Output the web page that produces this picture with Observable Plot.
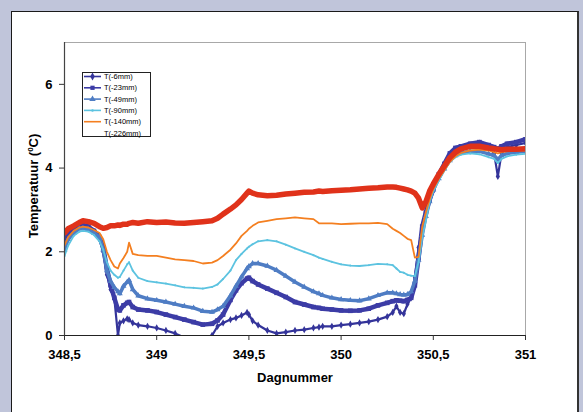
<!DOCTYPE html>
<html><head><meta charset="utf-8">
<script src="https://cdn.jsdelivr.net/npm/d3@7"></script>
<script src="https://cdn.jsdelivr.net/npm/@observablehq/plot@0.6"></script>
<style>
html,body{margin:0;padding:0;}
body{width:583px;height:412px;background:#c0c5da;position:relative;overflow:hidden;font-family:"Liberation Sans",Arial,sans-serif;}
#panel{position:absolute;left:11px;top:11px;width:565px;height:420px;background:#fff;border:1px solid #1a1a1a;border-right:2px solid #333;}
#chart{position:absolute;left:0;top:0;}
#ytitle{position:absolute;left:33px;top:186px;transform:translate(-50%,-50%) rotate(-90deg);font-weight:bold;font-size:13px;white-space:nowrap;color:#000;}
#ytitle sup{font-size:8px;vertical-align:5px;line-height:0;}
#xtitle{position:absolute;left:295px;top:377px;transform:translate(-50%,-50%);font-weight:bold;font-size:13px;color:#000;}
#legend{position:absolute;left:82px;top:72px;}
</style></head><body>
<div id="panel"></div>
<div id="chart"></div>
<div id="ytitle">Temperatuur (<sup>0</sup>C)</div>
<div id="xtitle">Dagnummer</div>
<div id="legend"></div>
<script>
const days = [348.50,348.52,348.55,348.58,348.60,348.63,348.66,348.69,348.71,348.73,348.75,348.77,348.79,348.80,348.82,348.84,348.85,348.87,348.90,348.95,349.00,349.05,349.10,349.15,349.20,349.25,349.30,349.33,349.36,349.40,349.43,349.46,349.49,349.50,349.52,349.55,349.60,349.65,349.70,349.75,349.80,349.85,349.88,349.90,349.95,350.00,350.05,350.10,350.15,350.20,350.25,350.28,350.30,350.32,350.34,350.36,350.38,350.40,350.42,350.44,350.46,350.48,350.50,350.53,350.56,350.59,350.62,350.65,350.70,350.75,350.80,350.83,350.85,350.87,350.90,350.95,351.00];

const t6 = [2.10,2.40,2.52,2.60,2.62,2.58,2.48,2.30,2.00,1.45,1.10,0.90,0.00,0.30,0.35,0.40,0.38,0.30,0.25,0.22,0.18,0.12,0.05,-0.05,-0.10,-0.08,0.00,0.22,0.30,0.38,0.42,0.48,0.55,0.50,0.35,0.25,0.12,0.05,0.08,0.12,0.14,0.18,0.20,0.22,0.22,0.25,0.27,0.30,0.33,0.38,0.45,0.55,0.70,0.55,0.52,0.75,0.90,1.40,2.10,2.55,2.90,3.20,3.45,3.80,4.05,4.30,4.42,4.48,4.52,4.55,4.50,4.35,3.80,4.35,4.50,4.55,4.60];
const t23 = [2.30,2.45,2.55,2.62,2.64,2.60,2.50,2.35,2.10,1.60,1.20,0.90,0.62,0.60,0.72,0.78,0.80,0.68,0.62,0.60,0.56,0.50,0.44,0.38,0.32,0.26,0.28,0.36,0.50,0.85,1.08,1.25,1.36,1.38,1.30,1.22,1.12,1.02,0.92,0.80,0.74,0.68,0.66,0.64,0.62,0.60,0.59,0.60,0.64,0.72,0.78,0.82,0.84,0.83,0.82,0.85,0.90,1.20,1.85,2.60,2.95,3.25,3.50,3.85,4.10,4.35,4.48,4.52,4.58,4.62,4.55,4.50,4.45,4.52,4.58,4.62,4.69];
const t49 = [2.05,2.30,2.45,2.55,2.56,2.52,2.45,2.35,2.05,1.55,1.30,1.15,1.05,1.00,1.18,1.28,1.32,1.10,0.95,0.88,0.84,0.80,0.75,0.70,0.66,0.58,0.56,0.62,0.70,0.95,1.18,1.40,1.60,1.65,1.72,1.72,1.66,1.56,1.42,1.28,1.16,1.05,1.00,0.96,0.90,0.86,0.84,0.83,0.88,0.96,1.02,1.02,1.00,0.98,0.97,0.98,1.05,1.30,1.80,2.40,2.85,3.20,3.48,3.75,3.98,4.18,4.30,4.36,4.40,4.40,4.34,4.30,4.20,4.30,4.35,4.38,4.40];
const t90 = [1.90,2.15,2.38,2.48,2.50,2.48,2.40,2.25,2.05,1.75,1.55,1.45,1.38,1.40,1.55,1.70,1.75,1.55,1.38,1.30,1.27,1.24,1.20,1.15,1.14,1.12,1.16,1.22,1.35,1.55,1.80,1.95,2.08,2.12,2.18,2.25,2.28,2.25,2.17,2.08,2.00,1.92,1.86,1.83,1.76,1.70,1.67,1.66,1.68,1.71,1.70,1.68,1.60,1.52,1.50,1.45,1.43,1.42,1.75,2.35,2.75,3.20,3.45,3.70,3.95,4.15,4.26,4.32,4.35,4.33,4.26,4.22,4.12,4.22,4.28,4.32,4.34];
const t140 = [2.15,2.35,2.50,2.58,2.60,2.58,2.52,2.45,2.30,2.00,1.80,1.65,1.60,1.72,1.85,2.00,2.22,1.95,1.92,1.90,1.90,1.86,1.82,1.80,1.78,1.72,1.74,1.80,1.90,2.05,2.20,2.38,2.50,2.55,2.62,2.70,2.74,2.78,2.80,2.82,2.80,2.78,2.68,2.68,2.68,2.66,2.67,2.68,2.68,2.69,2.66,2.55,2.50,2.45,2.38,2.31,2.28,1.86,1.88,2.60,2.95,3.25,3.50,3.75,3.95,4.15,4.28,4.36,4.42,4.44,4.42,4.38,4.35,4.38,4.40,4.42,4.42];
const t226 = [2.45,2.55,2.62,2.70,2.74,2.72,2.68,2.60,2.56,2.58,2.62,2.62,2.64,2.63,2.66,2.66,2.68,2.70,2.68,2.72,2.70,2.71,2.69,2.68,2.70,2.72,2.74,2.80,2.90,3.02,3.12,3.25,3.40,3.45,3.40,3.36,3.34,3.35,3.38,3.40,3.42,3.43,3.45,3.44,3.46,3.47,3.48,3.50,3.52,3.53,3.55,3.55,3.54,3.52,3.50,3.48,3.45,3.40,3.28,3.05,3.20,3.45,3.62,3.85,4.05,4.25,4.38,4.46,4.52,4.52,4.48,4.46,4.45,4.44,4.45,4.45,4.46];

const seriesNames = ["T(-6mm)","T(-23mm)","T(-49mm)","T(-90mm)","T(-140mm)","T(-226mm)"];
const seriesValues = [t6, t23, t49, t90, t140, t226];
const seriesColors = ["#34349a","#3c3ca6","#4f7dc4","#5cc3e0","#f47f20","#e0321a"];
const seriesWidths = [2.2, 4.5, 3.5, 1.8, 1.8, 5.5];
const seriesSymbols = ["diamond","square","triangle","circle",null,null];
const seriesSizes = [2.2, 2.6, 2.2, 1.0, 0, 0];
const xTicks = [348.5, 349, 349.5, 350, 350.5, 351];
const yTicks = [0, 2, 4, 6];

const rows = seriesNames.flatMap((name, i) => days.map((d, j) => ({series: name, idx: i, day: d, temp: seriesValues[i][j]})));

const marks = [Plot.frame({stroke: "#a8a8a8"})];
seriesNames.forEach((name, i) => {
  const data = rows.filter(r => r.idx === i);
  marks.push(Plot.line(data, {x: "day", y: "temp", stroke: seriesColors[i], strokeWidth: seriesWidths[i], clip: true, strokeLinejoin: "round"}));
  if (seriesSymbols[i]) {
    marks.push(Plot.dot(data.filter(r => r.temp >= 0), {x: "day", y: "temp", fill: seriesColors[i], symbol: seriesSymbols[i], r: seriesSizes[i], clip: true}));
  }
});
marks.push(Plot.ruleX([348.5], {stroke: "#444", strokeWidth: 1.2}));
marks.push(Plot.ruleY([0], {stroke: "#222", strokeWidth: 1.2}));
marks.push(Plot.axisY({ticks: yTicks, tickSize: 5, tickPadding: 7, label: null, fontWeight: "bold", fontSize: 13, tickFormat: d => String(d), stroke: "#333"}));
marks.push(Plot.axisX({ticks: xTicks, tickSize: 5, tickPadding: 9, label: null, fontWeight: "bold", fontSize: 13, tickFormat: d => String(d).replace(".", ","), stroke: "#333"}));

const chart = Plot.plot({
  width: 583, height: 412,
  marginLeft: 64, marginRight: 58, marginTop: 42, marginBottom: 77,
  x: {domain: [348.5, 351]},
  y: {domain: [0, 7]},
  style: {background: "transparent", fontFamily: "Liberation Sans, Arial, sans-serif", color: "#000"},
  marks
});
document.getElementById("chart").appendChild(chart);

// legend
const lg = d3.select("#legend").append("svg").attr("width", 70).attr("height", 66);
lg.append("rect").attr("x", 0.5).attr("y", 0.5).attr("width", 68).attr("height", 64).attr("fill", "#fff").attr("stroke", "#222").attr("stroke-width", 1);
seriesNames.forEach((name, i) => {
  const cy = 4.5 + i * 11.3;
  if (i < 5) {
    lg.append("line").attr("x1", 2).attr("x2", 19).attr("y1", cy).attr("y2", cy).attr("stroke", seriesColors[i]).attr("stroke-width", 1.6);
    if (seriesSymbols[i]) {
      lg.append("path").attr("transform", `translate(10.5,${cy})`)
        .attr("d", d3.symbol(({diamond: d3.symbolDiamond, square: d3.symbolSquare, triangle: d3.symbolTriangle, circle: d3.symbolCircle})[seriesSymbols[i]], i === 3 ? 5 : 18)())
        .attr("fill", seriesColors[i]);
    }
  }
  lg.append("text").attr("x", 22).attr("y", cy + 2.6).attr("font-size", 7.5).attr("font-family", "Liberation Sans, Arial, sans-serif").attr("fill", "#000").text(name);
});
</script>
</body></html>
